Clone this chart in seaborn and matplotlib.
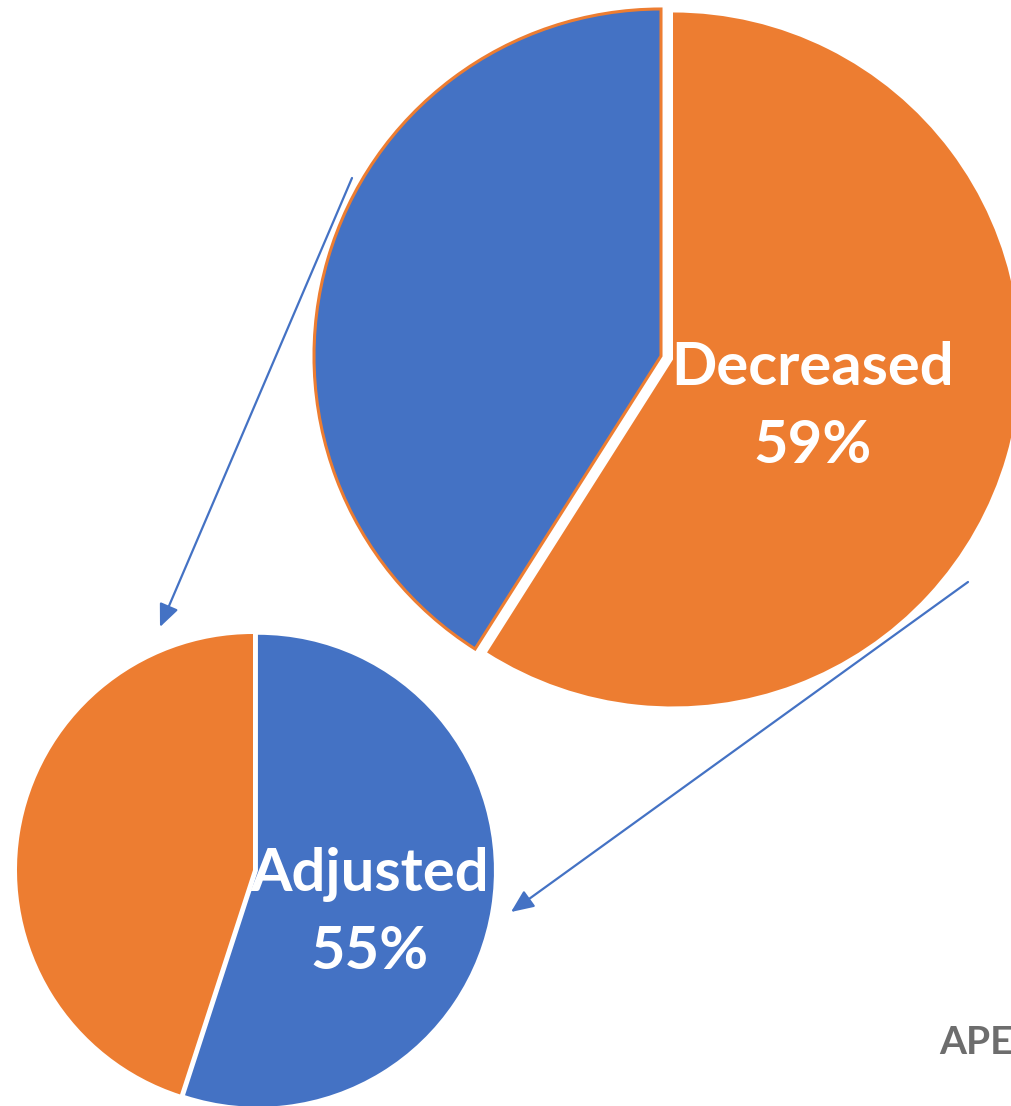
import matplotlib
matplotlib.use("Agg")
import matplotlib.pyplot as plt
import seaborn as sns

sns.set_theme(style="white")
plt.rcParams["font.family"] = ["Lato", "DejaVu Sans"]

# Data
outer_labels = ["Decreased", "Other"]
outer_values = [59, 41]
inner_labels = ["Adjusted", "Other"]
inner_values = [55, 45]

BLUE = "#4472C4"
ORANGE = "#ED7D31"

W, H = 1012, 1106
fig = plt.figure(figsize=(W / 100, H / 100), dpi=100)
ax = fig.add_axes([0, 0, 1, 1])

# Large pie (top right); explode offsets are in data units here
big_r = 347
big_c = (661, H - 356)
wedges, _ = ax.pie(outer_values, colors=[ORANGE, BLUE], startangle=90,
                   counterclock=False, radius=big_r, center=big_c,
                   explode=[12.5, 0], frame=True)
wedges[0].set_linewidth(0)
wedges[1].set_edgecolor(ORANGE)
wedges[1].set_linewidth(2.2)

# Small pie (bottom left)
sm_r = 236
sm_c = (253, H - 870)
wedges2, _ = ax.pie(inner_values, colors=[BLUE, ORANGE], startangle=90,
                    counterclock=False, radius=sm_r, center=sm_c,
                    explode=[5, 0], frame=True)
for w in wedges2:
    w.set_linewidth(0)

ax.set_xlim(0, W)
ax.set_ylim(0, H)
ax.set_aspect("equal")
ax.axis("off")

# Slice labels
label_kw = dict(color="white", fontsize=43, fontweight="bold",
                ha="center", va="center")
ax.text(813, H - 368, outer_labels[0], **label_kw)
ax.text(813, H - 446, f"{outer_values[0]}%", **label_kw)
ax.text(370, H - 874, inner_labels[0], **label_kw)
ax.text(370, H - 952, f"{inner_values[0]}%", **label_kw)

# Connector arrows
arrow_kw = dict(arrowstyle="-|>,head_length=1.15,head_width=0.5",
                color=BLUE, lw=1.6, shrinkA=0, shrinkB=0)
ax.annotate("", xy=(160, H - 627), xytext=(352, H - 178), arrowprops=arrow_kw)
ax.annotate("", xy=(511, H - 912), xytext=(968, H - 582), arrowprops=arrow_kw)

# Footer mark
ax.text(939, H - 1043, "APE", color="#6D6D6D", fontsize=28,
        fontweight="bold", ha="left", va="center", clip_on=False)

fig.savefig("out.png", dpi=100)
